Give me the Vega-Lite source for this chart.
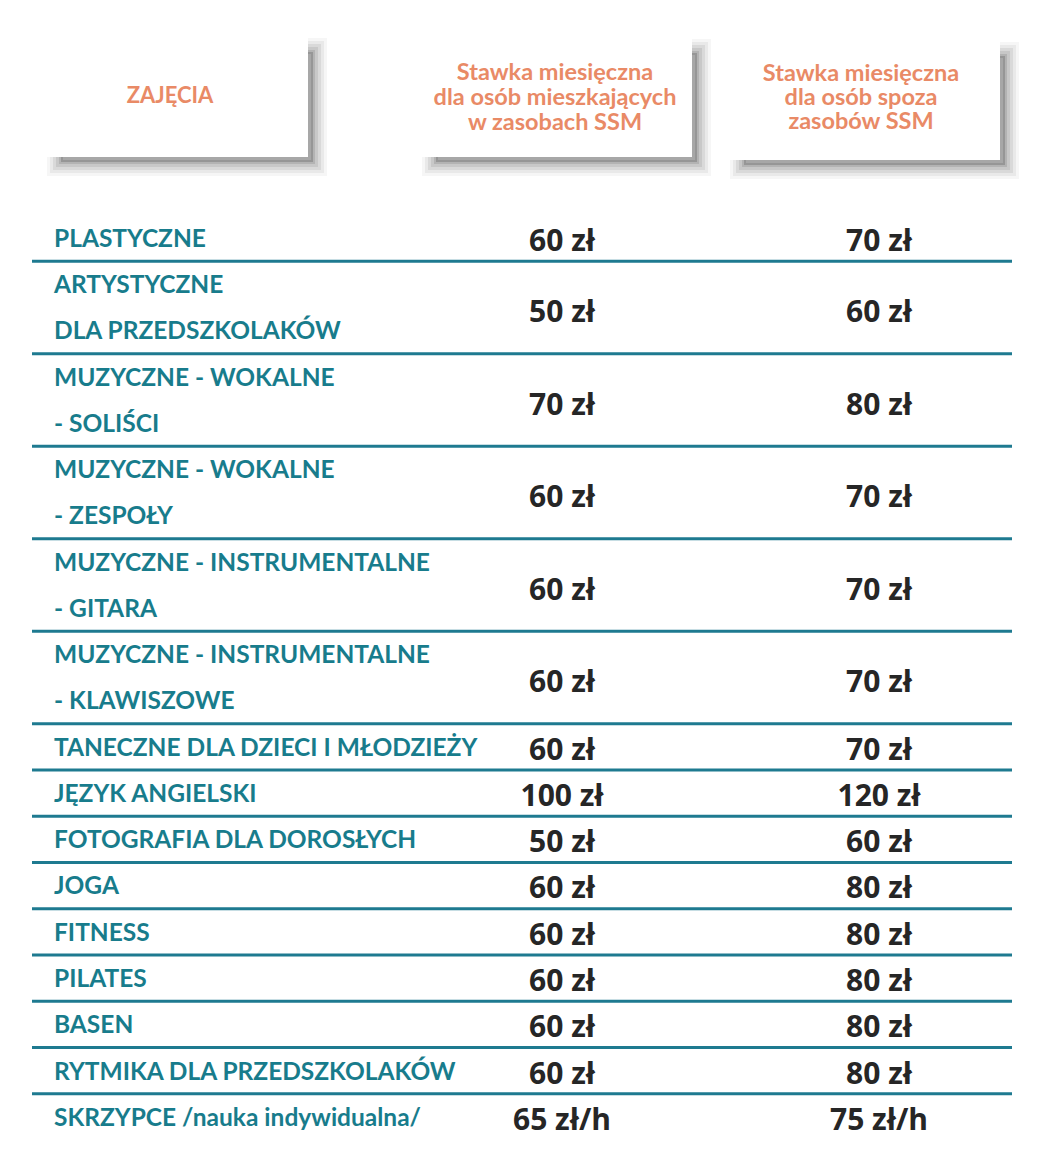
{
  "$schema": "https://vega.github.io/schema/vega-lite/v6.json",
  "width": 1050,
  "height": 1173,
  "autosize": {"type": "fit", "contains": "padding"},
  "padding": 0,
  "background": "#ffffff",
  "config": {"view": {"stroke": null}, "axis": {"disable": true}},
  "datasets": {
    "naglowki": [
      {"kolumna": "zajecia", "tytul": ["ZAJĘCIA"]},
      {"kolumna": "mieszkancy", "tytul": ["Stawka miesięczna", "dla osób mieszkających", "w zasobach SSM"]},
      {"kolumna": "spoza", "tytul": ["Stawka miesięczna", "dla osób spoza", "zasobów SSM"]}
    ],
    "cennik": [
      {"wiersz": 0, "linie": 1, "zajecia": ["PLASTYCZNE"], "mieszkancy": "60 zł", "spoza": "70 zł"},
      {"wiersz": 1, "linie": 2, "zajecia": ["ARTYSTYCZNE", "DLA PRZEDSZKOLAKÓW"], "mieszkancy": "50 zł", "spoza": "60 zł"},
      {"wiersz": 3, "linie": 2, "zajecia": ["MUZYCZNE - WOKALNE", "- SOLIŚCI"], "mieszkancy": "70 zł", "spoza": "80 zł"},
      {"wiersz": 5, "linie": 2, "zajecia": ["MUZYCZNE - WOKALNE", "- ZESPOŁY"], "mieszkancy": "60 zł", "spoza": "70 zł"},
      {"wiersz": 7, "linie": 2, "zajecia": ["MUZYCZNE - INSTRUMENTALNE", "- GITARA"], "mieszkancy": "60 zł", "spoza": "70 zł"},
      {"wiersz": 9, "linie": 2, "zajecia": ["MUZYCZNE - INSTRUMENTALNE", "- KLAWISZOWE"], "mieszkancy": "60 zł", "spoza": "70 zł"},
      {"wiersz": 11, "linie": 1, "zajecia": ["TANECZNE DLA DZIECI I MŁODZIEŻY"], "mieszkancy": "60 zł", "spoza": "70 zł"},
      {"wiersz": 12, "linie": 1, "zajecia": ["JĘZYK ANGIELSKI"], "mieszkancy": "100 zł", "spoza": "120 zł"},
      {"wiersz": 13, "linie": 1, "zajecia": ["FOTOGRAFIA DLA DOROSŁYCH"], "mieszkancy": "50 zł", "spoza": "60 zł"},
      {"wiersz": 14, "linie": 1, "zajecia": ["JOGA"], "mieszkancy": "60 zł", "spoza": "80 zł"},
      {"wiersz": 15, "linie": 1, "zajecia": ["FITNESS"], "mieszkancy": "60 zł", "spoza": "80 zł"},
      {"wiersz": 16, "linie": 1, "zajecia": ["PILATES"], "mieszkancy": "60 zł", "spoza": "80 zł"},
      {"wiersz": 17, "linie": 1, "zajecia": ["BASEN"], "mieszkancy": "60 zł", "spoza": "80 zł"},
      {"wiersz": 18, "linie": 1, "zajecia": ["RYTMIKA DLA PRZEDSZKOLAKÓW"], "mieszkancy": "60 zł", "spoza": "80 zł"},
      {"wiersz": 19, "linie": 1, "zajecia": ["SKRZYPCE /nauka indywidualna/"], "mieszkancy": "65 zł/h", "spoza": "75 zł/h"}
    ]
  },
  "layer": [
    {
      "data": {"name": "naglowki"},
      "layer": [
        {
          "transform": [{"filter": "datum.kolumna === 'zajecia'"}],
          "encoding": {
            "x": {"datum": 45, "type": "quantitative", "scale": {"domain": [0, 1050], "nice": false, "zero": false}, "axis": null},
            "x2": {"datum": 308},
            "y": {"datum": 36, "type": "quantitative", "scale": {"domain": [0, 1173], "reverse": true, "nice": false, "zero": false}, "axis": null},
            "y2": {"datum": 157}
          },
          "layer": [
            {"mark": {"type": "rect", "fillOpacity": 0, "stroke": "#000000", "strokeOpacity": 0.035, "strokeWidth": 28, "xOffset": 16, "x2Offset": 5, "yOffset": 16, "y2Offset": 5}},
            {"mark": {"type": "rect", "fillOpacity": 0, "stroke": "#000000", "strokeOpacity": 0.05, "strokeWidth": 22, "xOffset": 16, "x2Offset": 5, "yOffset": 16, "y2Offset": 5}},
            {"mark": {"type": "rect", "fillOpacity": 0, "stroke": "#000000", "strokeOpacity": 0.065, "strokeWidth": 16, "xOffset": 16, "x2Offset": 5, "yOffset": 16, "y2Offset": 5}},
            {"mark": {"type": "rect", "fillOpacity": 0, "stroke": "#000000", "strokeOpacity": 0.08, "strokeWidth": 10, "xOffset": 16, "x2Offset": 5, "yOffset": 16, "y2Offset": 5}},
            {"mark": {"type": "rect", "fill": "#000000", "fillOpacity": 0.16, "stroke": "#000000", "strokeOpacity": 0.1, "strokeWidth": 4, "xOffset": 16, "x2Offset": 5, "yOffset": 16, "y2Offset": 5}},
            {"mark": {"type": "rect", "fill": "#ffffff"}}
          ]
        },
        {
          "transform": [{"filter": "datum.kolumna === 'zajecia'"}],
          "mark": {"type": "text", "align": "center", "baseline": "alphabetic", "font": "Lato", "fontWeight": "bold", "fontSize": 22, "color": "#E98A66", "lineHeight": 25},
          "encoding": {
            "x": {"datum": 170, "type": "quantitative"},
            "y": {"datum": 103, "type": "quantitative"},
            "text": {"field": "tytul", "type": "nominal"}
          }
        },
        {
          "transform": [{"filter": "datum.kolumna === 'mieszkancy'"}],
          "encoding": {
            "x": {"datum": 420, "type": "quantitative"},
            "x2": {"datum": 692},
            "y": {"datum": 37, "type": "quantitative"},
            "y2": {"datum": 157}
          },
          "layer": [
            {"mark": {"type": "rect", "fillOpacity": 0, "stroke": "#000000", "strokeOpacity": 0.035, "strokeWidth": 28, "xOffset": 16, "x2Offset": 5, "yOffset": 16, "y2Offset": 5}},
            {"mark": {"type": "rect", "fillOpacity": 0, "stroke": "#000000", "strokeOpacity": 0.05, "strokeWidth": 22, "xOffset": 16, "x2Offset": 5, "yOffset": 16, "y2Offset": 5}},
            {"mark": {"type": "rect", "fillOpacity": 0, "stroke": "#000000", "strokeOpacity": 0.065, "strokeWidth": 16, "xOffset": 16, "x2Offset": 5, "yOffset": 16, "y2Offset": 5}},
            {"mark": {"type": "rect", "fillOpacity": 0, "stroke": "#000000", "strokeOpacity": 0.08, "strokeWidth": 10, "xOffset": 16, "x2Offset": 5, "yOffset": 16, "y2Offset": 5}},
            {"mark": {"type": "rect", "fill": "#000000", "fillOpacity": 0.16, "stroke": "#000000", "strokeOpacity": 0.1, "strokeWidth": 4, "xOffset": 16, "x2Offset": 5, "yOffset": 16, "y2Offset": 5}},
            {"mark": {"type": "rect", "fill": "#ffffff"}}
          ]
        },
        {
          "transform": [{"filter": "datum.kolumna === 'mieszkancy'"}],
          "mark": {"type": "text", "align": "center", "baseline": "alphabetic", "font": "Lato", "fontWeight": "bold", "fontSize": 23.5, "color": "#E98A66", "lineHeight": 25},
          "encoding": {
            "x": {"datum": 555, "type": "quantitative"},
            "y": {"datum": 80, "type": "quantitative"},
            "text": {"field": "tytul", "type": "nominal"}
          }
        },
        {
          "transform": [{"filter": "datum.kolumna === 'spoza'"}],
          "encoding": {
            "x": {"datum": 728, "type": "quantitative"},
            "x2": {"datum": 1000},
            "y": {"datum": 40, "type": "quantitative"},
            "y2": {"datum": 160}
          },
          "layer": [
            {"mark": {"type": "rect", "fillOpacity": 0, "stroke": "#000000", "strokeOpacity": 0.035, "strokeWidth": 28, "xOffset": 16, "x2Offset": 5, "yOffset": 16, "y2Offset": 5}},
            {"mark": {"type": "rect", "fillOpacity": 0, "stroke": "#000000", "strokeOpacity": 0.05, "strokeWidth": 22, "xOffset": 16, "x2Offset": 5, "yOffset": 16, "y2Offset": 5}},
            {"mark": {"type": "rect", "fillOpacity": 0, "stroke": "#000000", "strokeOpacity": 0.065, "strokeWidth": 16, "xOffset": 16, "x2Offset": 5, "yOffset": 16, "y2Offset": 5}},
            {"mark": {"type": "rect", "fillOpacity": 0, "stroke": "#000000", "strokeOpacity": 0.08, "strokeWidth": 10, "xOffset": 16, "x2Offset": 5, "yOffset": 16, "y2Offset": 5}},
            {"mark": {"type": "rect", "fill": "#000000", "fillOpacity": 0.16, "stroke": "#000000", "strokeOpacity": 0.1, "strokeWidth": 4, "xOffset": 16, "x2Offset": 5, "yOffset": 16, "y2Offset": 5}},
            {"mark": {"type": "rect", "fill": "#ffffff"}}
          ]
        },
        {
          "transform": [{"filter": "datum.kolumna === 'spoza'"}],
          "mark": {"type": "text", "align": "center", "baseline": "alphabetic", "font": "Lato", "fontWeight": "bold", "fontSize": 23.5, "color": "#E98A66", "lineHeight": 24},
          "encoding": {
            "x": {"datum": 861, "type": "quantitative"},
            "y": {"datum": 81, "type": "quantitative"},
            "text": {"field": "tytul", "type": "nominal"}
          }
        }
      ]
    },
    {
      "data": {"name": "cennik"},
      "layer": [
        {
          "transform": [{"filter": "datum.wiersz > 0"}],
          "mark": {"type": "rule", "color": "#1E7A90", "strokeWidth": 3},
          "encoding": {
            "x": {"datum": 32, "type": "quantitative", "scale": {"domain": [0, 1050], "nice": false, "zero": false}, "axis": null},
            "x2": {"datum": 1012},
            "y": {"field": "wiersz", "type": "quantitative", "scale": {"domain": [-4.6486, 20.7135], "reverse": true, "nice": false, "zero": false}, "axis": null}
          }
        },
        {
          "mark": {"type": "text", "align": "left", "baseline": "alphabetic", "font": "Lato", "fontWeight": "bold", "fontSize": 24.5, "color": "#187C8C", "lineHeight": 46.25, "dy": 32},
          "encoding": {
            "x": {"datum": 54, "type": "quantitative"},
            "y": {"field": "wiersz", "type": "quantitative"},
            "text": {"field": "zajecia", "type": "nominal"}
          }
        },
        {
          "transform": [{"filter": "datum.linie === 1"}],
          "mark": {"type": "text", "align": "center", "baseline": "alphabetic", "font": "Open Sans", "fontWeight": "bold", "fontSize": 30, "color": "#262626", "dy": 36},
          "encoding": {
            "x": {"datum": 562, "type": "quantitative"},
            "y": {"field": "wiersz", "type": "quantitative"},
            "text": {"field": "mieszkancy", "type": "nominal"}
          }
        },
        {
          "transform": [{"filter": "datum.linie === 2"}],
          "mark": {"type": "text", "align": "center", "baseline": "alphabetic", "font": "Open Sans", "fontWeight": "bold", "fontSize": 30, "color": "#262626", "dy": 61},
          "encoding": {
            "x": {"datum": 562, "type": "quantitative"},
            "y": {"field": "wiersz", "type": "quantitative"},
            "text": {"field": "mieszkancy", "type": "nominal"}
          }
        },
        {
          "transform": [{"filter": "datum.linie === 1"}],
          "mark": {"type": "text", "align": "center", "baseline": "alphabetic", "font": "Open Sans", "fontWeight": "bold", "fontSize": 30, "color": "#262626", "dy": 36},
          "encoding": {
            "x": {"datum": 879, "type": "quantitative"},
            "y": {"field": "wiersz", "type": "quantitative"},
            "text": {"field": "spoza", "type": "nominal"}
          }
        },
        {
          "transform": [{"filter": "datum.linie === 2"}],
          "mark": {"type": "text", "align": "center", "baseline": "alphabetic", "font": "Open Sans", "fontWeight": "bold", "fontSize": 30, "color": "#262626", "dy": 61},
          "encoding": {
            "x": {"datum": 879, "type": "quantitative"},
            "y": {"field": "wiersz", "type": "quantitative"},
            "text": {"field": "spoza", "type": "nominal"}
          }
        }
      ]
    }
  ],
  "resolve": {"scale": {"y": "independent"}}
}
